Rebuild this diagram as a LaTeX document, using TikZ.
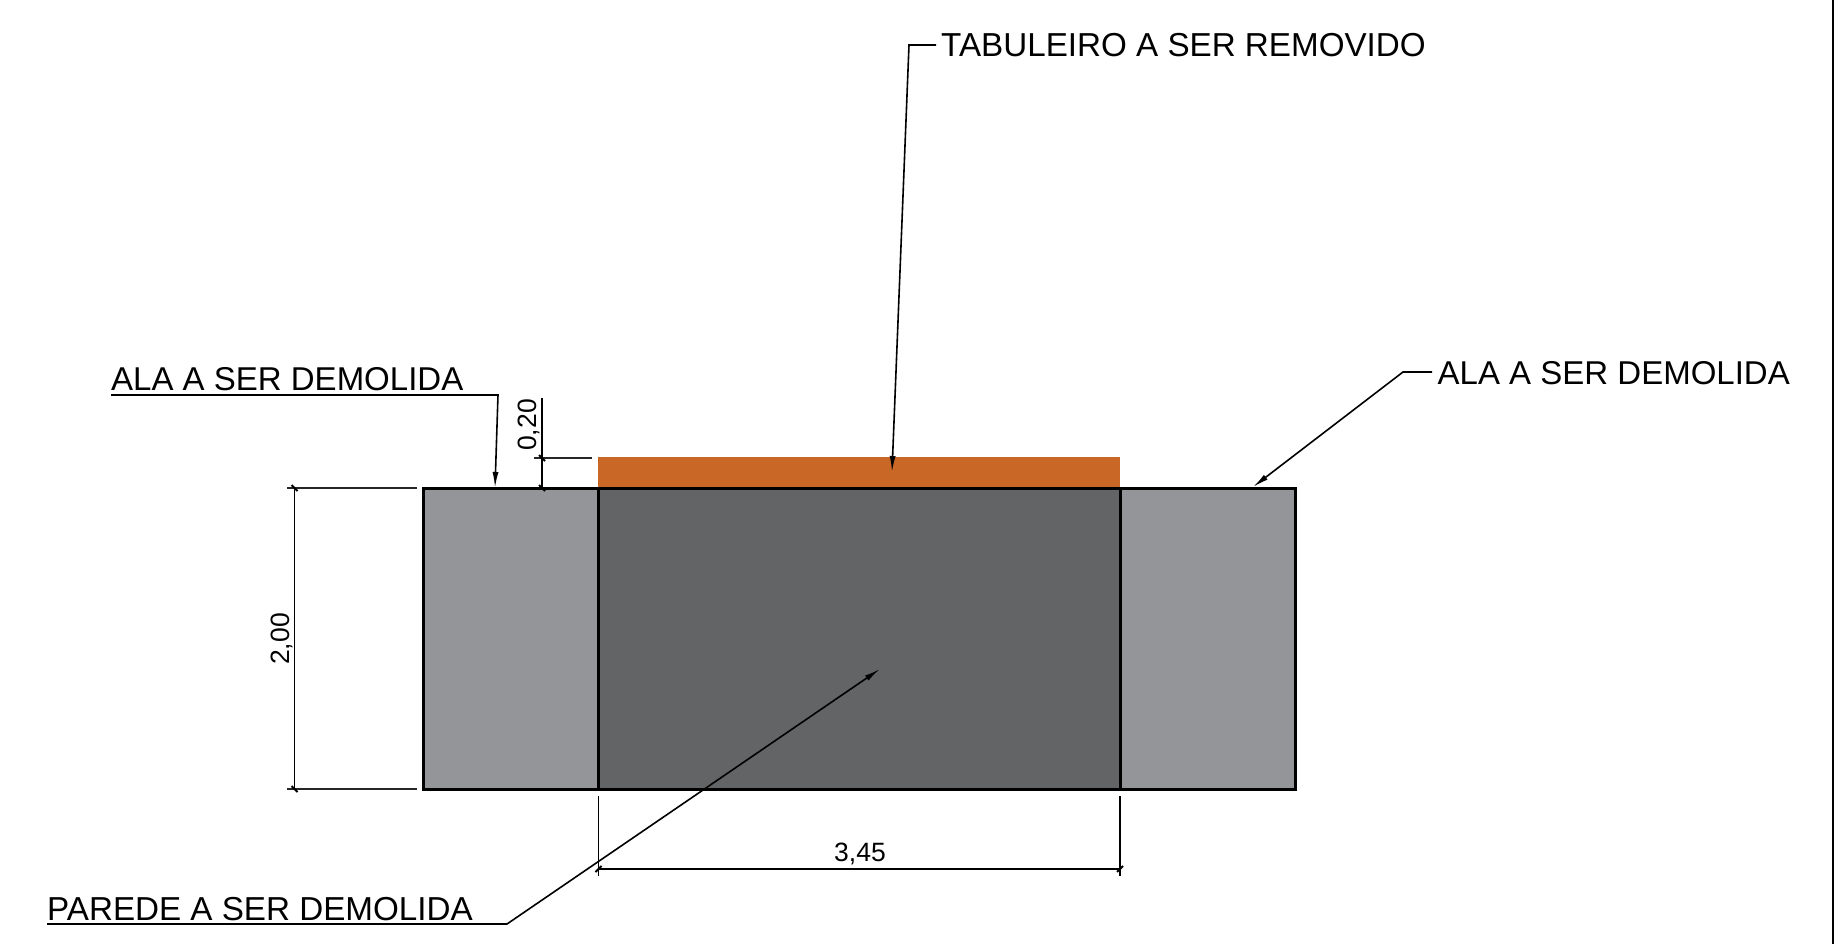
\documentclass[tikz,border=0pt]{standalone}
\usepackage{fontspec}
\setmainfont{Liberation Sans}
\usetikzlibrary{arrows.meta}
\tikzset{
  x=1pt,y=-1pt,
  lbl/.style={inner sep=0pt,anchor=base west,font=\fontsize{33}{36}\selectfont,text=black},
  lblwide/.style={inner sep=0pt,anchor=base west,font=\fontsize{33.2}{36}\selectfont,text=black},
  dimtxt/.style={inner sep=0pt,font=\fontsize{26.5}{28}\selectfont,text=black},
  leader/.style={draw=black,line width=1.6pt},
  leadarrow/.style={leader,-{Latex[length=16pt,width=6pt]}},
  dimline/.style={draw=black,line width=1.7pt},
  extline/.style={draw=black!85,line width=1.7pt},
  slash/.style={draw=black,line width=1.8pt},
  outline/.style={draw=black,line width=3pt},
}
\begin{document}
\begin{tikzpicture}
\useasboundingbox (0,0) rectangle (1845,944);
% body
\fill[fill=white] (0,0) rectangle (1845,944);
\fill[fill={rgb,255:red,201;green,103;blue,39}] (598,457) rectangle (1120,488);
\path[outline,fill={rgb,255:red,148;green,149;blue,152}] (423,488) rectangle (1295,789);
\path[outline,fill={rgb,255:red,99;green,100;blue,102}] (598.5,488) rectangle (1120,789);
\draw[draw=black,line width=2.6pt] (1833,0) -- (1833,944);
% labels
\node[lblwide] (tab) at (941,57) {TABULEIRO A SER REMOVIDO};
\node[lbl] (alaL) at (111,390) {ALA A SER DEMOLIDA};
\node[lbl] (alaR) at (1437.5,384) {ALA A SER DEMOLIDA};
\node[lblwide] (par) at (47,920) {PAREDE A SER DEMOLIDA};
\coordinate (tabS) at (936,45);
\coordinate (tabK) at (909,45);
\coordinate (tabT) at (892,472);
\coordinate (alaLS) at (111,395);
\coordinate (alaLK) at (498,395);
\coordinate (alaLT) at (495,488);
\coordinate (alaRS) at (1432,372);
\coordinate (alaRK) at (1403,372);
\coordinate (alaRT) at (1253,487);
\coordinate (parS) at (47,924);
\coordinate (parK) at (507,924);
\coordinate (parT) at (880,669);
\draw[leadarrow] (tabS) -- (tabK) -- (tabT);
\draw[leadarrow] (alaLS) -- (alaLK) -- (alaLT);
\draw[leadarrow] (alaRS) -- (alaRK) -- (alaRT);
\draw[leadarrow] (parS) -- (parK) -- (parT);
% dimension 2,00
\coordinate (aT) at (294.5,488);
\coordinate (aB) at (294.5,789);
\draw[extline] (287,488) -- (417,488);
\draw[extline] (287,789) -- (417,789);
\draw[dimline] (aT) -- (aB);
\draw[slash] (aT) ++(-3,-3) -- ++(6,6);
\draw[slash] (aB) ++(-3,-3) -- ++(6,6);
\node[dimtxt,rotate=90,anchor=base] (d200) at (289,639) {2,00};
% dimension 0,20
\coordinate (bT) at (542,458);
\coordinate (bB) at (542,488);
\draw[extline] (534,458) -- (592,458);
\draw[dimline] (542,398) -- (bB);
\draw[slash] (bT) ++(-3,-3) -- ++(6,6);
\draw[slash] (bB) ++(-3,-3) -- ++(6,6);
\node[dimtxt,rotate=90,anchor=base] (d020) at (536,425) {0,20};
% dimension 3,45
\coordinate (cL) at (598.5,869);
\coordinate (cR) at (1120,869);
\draw[dimline] (598.5,796) -- (598.5,876);
\draw[dimline] (1120,796) -- (1120,876);
\draw[dimline] (cL) -- (cR);
\draw[slash] (cL) ++(-3,3) -- ++(6,-6);
\draw[slash] (cR) ++(-3,3) -- ++(6,-6);
\node[dimtxt,anchor=base] (d345) at (860,861.5) {3,45};
\end{tikzpicture}
\end{document}
